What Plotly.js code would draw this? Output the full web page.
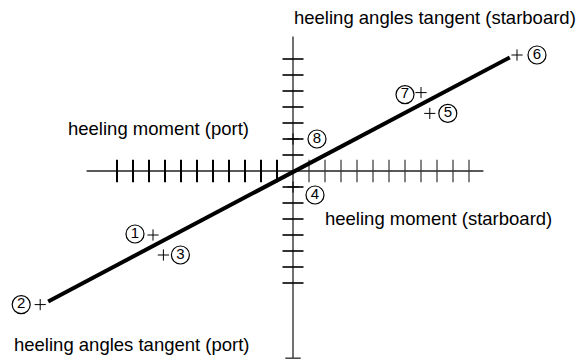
<!DOCTYPE html>
<html>
<head>
<meta charset="utf-8">
<script src="https://cdn.plot.ly/plotly-3.0.1.min.js"></script>
<style>
  body { margin: 0; background: #fff; }
  #myPlot { width: 576px; height: 363px; }
</style>
</head>
<body>
<div id="myPlot"></div>
<script>
// tick units: 1 unit = one tick step on either axis
var xTicksPort = [-11, -10, -9, -8, -7, -6, -5, -4, -3, -2, -1];
var xTicksStar = [1, 2, 3, 4, 5, 6, 7, 8, 9, 10, 11];
var yTicks = [-7, -6, -5, -4, -3, -2, -1, 1, 2, 3, 4, 5, 6, 7];

var xAxisEnds = [-12.9, 11.9];
var yAxisEnds = [-11.7, 8.4];

// measured points (heeling moment, heeling angle tangent)
var pointNames = ["1", "2", "3", "4", "5", "6", "7", "8"];
var pointX = [-8.75, -15.8, -8.1, 0, 8.55, 14.0, 8.0, 0];
var pointY = [-4.0, -8.35, -5.25, -1, 3.6, 7.25, 4.9, 2];

// fitted line through origin
var fitX = [-15.3, 13.55];
var fitY = [-8.15, 7.1];

// where each number sits relative to its point, in pixels
var labelDx = [-18, -19, 17, 22, 18, 20, -16, 24];
var labelDy = [-1, 0, 0, 8, 0, 0, 2, 0];

var PX = 16; // pixels per unit on both axes
var labelX = pointX.map(function (x, i) { return x + labelDx[i] / PX; });
var labelY = pointY.map(function (y, i) { return y - labelDy[i] / PX; });

var data = [
  {x: xAxisEnds, y: [0, 0], mode: "lines", line: {color: "#222", width: 1.3}, hoverinfo: "skip"},
  {x: [0, 0], y: yAxisEnds, mode: "lines", line: {color: "#222", width: 1.3}, hoverinfo: "skip"},
  {x: xTicksPort, y: xTicksPort.map(function () { return 0; }), mode: "markers",
   marker: {symbol: "line-ns", size: 16, line: {color: "#000", width: 2}}, hoverinfo: "skip"},
  {x: xTicksStar, y: xTicksStar.map(function () { return 0; }), mode: "markers",
   marker: {symbol: "line-ns", size: 16, line: {color: "#333", width: 1.2}}, hoverinfo: "skip"},
  {x: yTicks.map(function () { return 0; }), y: yTicks, mode: "markers",
   marker: {symbol: "line-ew", size: 15, line: {color: "#000", width: 1.6}}, hoverinfo: "skip"},
  {x: [0], y: [yAxisEnds[0]], mode: "markers",
   marker: {symbol: "line-ew", size: 11, line: {color: "#444", width: 1.5}}, hoverinfo: "skip"},
  {x: fitX, y: fitY, mode: "lines", line: {color: "#000", width: 4}, hoverinfo: "skip"},
  {x: pointX, y: pointY, mode: "markers",
   marker: {symbol: "cross-thin", size: 8, line: {color: "#000", width: 1}}},
  {x: labelX, y: labelY, mode: "markers+text", text: pointNames, textposition: "middle center",
   textfont: {family: "Liberation Sans, Arial, sans-serif", size: 15, color: "#000"},
   marker: {symbol: "circle-open", size: 18, color: "#000", line: {color: "#000", width: 1.2}}}
];

var annotations = [];
var axisTitles = [
  {text: "heeling angles tangent (starboard)", x: 0.507, y: 0.953},
  {text: "heeling moment (port)", x: 0.114, y: 0.647},
  {text: "heeling moment (starboard)", x: 0.561, y: 0.399},
  {text: "heeling angles tangent (port)", x: 0.020, y: 0.050}
];
axisTitles.forEach(function (t) {
  annotations.push({text: t.text, x: t.x, y: t.y, xref: "paper", yref: "paper",
    xanchor: "left", yanchor: "middle", showarrow: false,
    font: {family: "Liberation Sans, Arial, sans-serif", size: 18.5, color: "#000"}});
});

var layout = {
  width: 576, height: 363,
  margin: {l: 0, r: 0, t: 0, b: 0},
  paper_bgcolor: "#fff", plot_bgcolor: "#fff",
  showlegend: false,
  xaxis: {range: [-18.3125, 17.6875], visible: false, fixedrange: true},
  yaxis: {range: [-12.0, 10.6875], visible: false, fixedrange: true},
  annotations: annotations
};

Plotly.newPlot("myPlot", data, layout, {staticPlot: true});
</script>
</body>
</html>
